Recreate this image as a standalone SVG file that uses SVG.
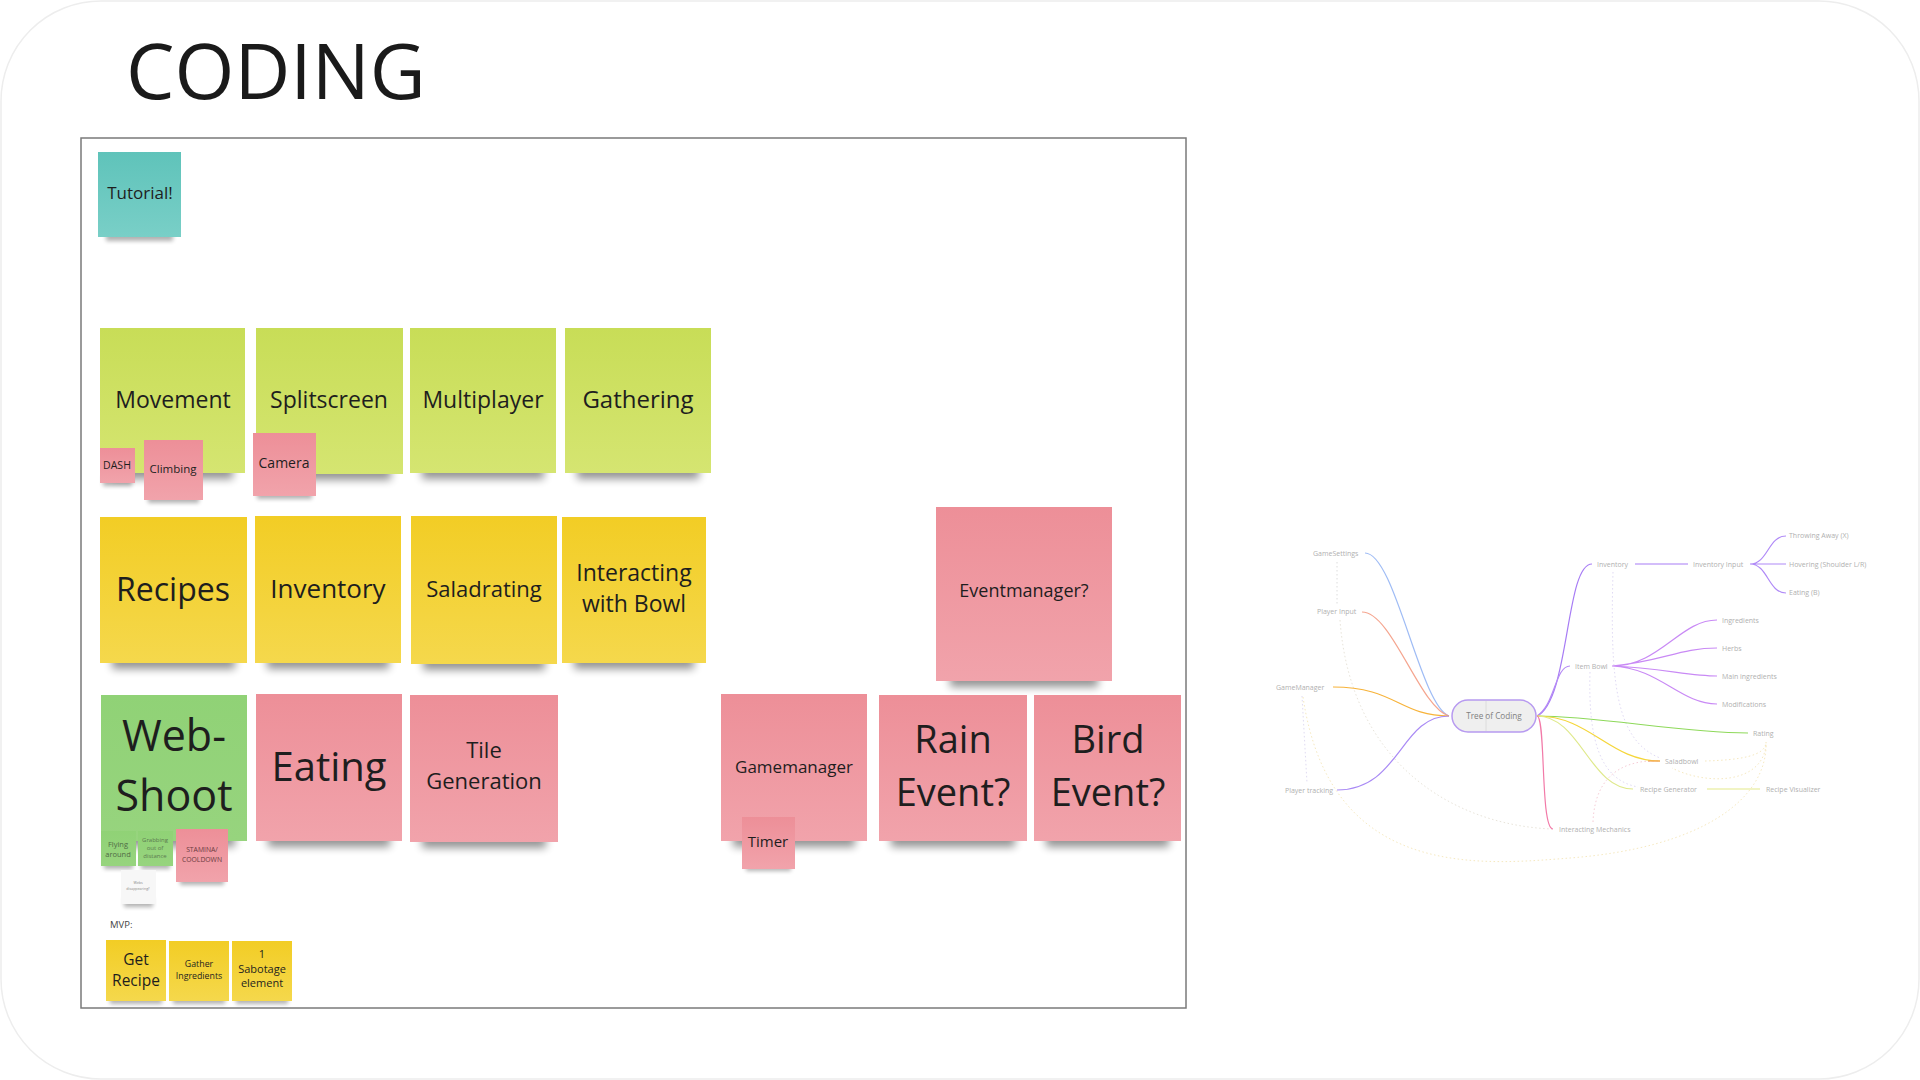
<svg xmlns="http://www.w3.org/2000/svg" width="1920" height="1080" viewBox="0 0 1920 1080">
<defs>
<linearGradient id="gLime" x1="0" y1="0" x2="0" y2="1"><stop offset="0" stop-color="#c8dd57"/><stop offset="1" stop-color="#d5e571"/></linearGradient>
<linearGradient id="gYel" x1="0" y1="0" x2="0" y2="1"><stop offset="0" stop-color="#f2cd25"/><stop offset="1" stop-color="#f5d84c"/></linearGradient>
<linearGradient id="gPink" x1="0" y1="0" x2="0" y2="1"><stop offset="0" stop-color="#ed8f98"/><stop offset="1" stop-color="#f1a3ab"/></linearGradient>
<linearGradient id="gGreen" x1="0" y1="0" x2="0" y2="1"><stop offset="0" stop-color="#90d276"/><stop offset="1" stop-color="#97d47e"/></linearGradient>
<linearGradient id="gTeal" x1="0" y1="0" x2="0" y2="1"><stop offset="0" stop-color="#5fc3ba"/><stop offset="1" stop-color="#79cfc7"/></linearGradient>
<filter id="blur" x="-30%" y="-100%" width="160%" height="300%"><feGaussianBlur stdDeviation="4"/></filter>
<filter id="blurS" x="-30%" y="-100%" width="160%" height="300%"><feGaussianBlur stdDeviation="2"/></filter>
</defs>
<style>
.sh{fill:#000;opacity:.42;filter:url(#blur)}
.shs{fill:#000;opacity:.3;filter:url(#blurS)}
.lime{fill:url(#gLime)}
.yel{fill:url(#gYel)}
.pink{fill:url(#gPink)}
.green{fill:url(#gGreen)}
.teal{fill:url(#gTeal)}
.white{fill:#f7f7f7}
text{font-family:"Open Sans","Noto Sans","Liberation Sans",sans-serif;fill:#1e1e1e}
.c{text-anchor:middle}
.mm{font-size:7px;fill:#b0b0b0}
.br{fill:none;stroke-width:1.2}
.dot{fill:none;stroke-width:1;stroke-dasharray:1.5 2.5}
</style>
<rect x="1" y="1" width="1918" height="1078" rx="100" fill="#ffffff" stroke="#ededed" stroke-width="1.5"/>
<text x="126" y="99" style="font-size:77px;fill:#1a1a1a">CODING</text>
<rect x="81" y="138" width="1105" height="870" fill="#ffffff" stroke="#7a7a7a" stroke-width="1.5"/>

<g id="tutorial"><rect class="shs" x="106" y="229" width="67" height="12"/><rect class="teal" x="98" y="152" width="83" height="85"/><text class="c" x="140" y="199" font-size="17">Tutorial!</text></g>

<g id="movement"><rect class="sh" x="112" y="463" width="121" height="16"/><rect class="lime" x="100" y="328" width="145" height="145"/><text class="c" x="173" y="408" font-size="23">Movement</text></g>
<g id="splitscreen"><rect class="sh" x="268" y="464" width="123" height="16"/><rect class="lime" x="256" y="328" width="147" height="146"/><text class="c" x="329" y="408" font-size="23">Splitscreen</text></g>
<g id="multiplayer"><rect class="sh" x="422" y="463" width="122" height="16"/><rect class="lime" x="410" y="328" width="146" height="145"/><text class="c" x="483" y="408" font-size="23">Multiplayer</text></g>
<g id="gathering"><rect class="sh" x="577" y="463" width="122" height="16"/><rect class="lime" x="565" y="328" width="146" height="145"/><text class="c" x="638" y="408" font-size="24">Gathering</text></g>
<g id="dash"><rect class="shs" x="103" y="476" width="29" height="10"/><rect class="pink" x="100" y="448" width="35" height="35"/><text class="c" x="117" y="469" font-size="10.5">DASH</text></g>
<g id="climbing"><rect class="shs" x="148" y="492" width="51" height="11"/><rect class="pink" x="144" y="440" width="59" height="60"/><text class="c" x="173" y="473" font-size="11.5">Climbing</text></g>
<g id="camera"><rect class="shs" x="257" y="488" width="55" height="11"/><rect class="pink" x="253" y="433" width="63" height="63"/><text class="c" x="284" y="468" font-size="14">Camera</text></g>

<g id="recipes"><rect class="sh" x="112" y="653" width="123" height="16"/><rect class="yel" x="100" y="517" width="147" height="146"/><text class="c" x="173" y="601" font-size="32">Recipes</text></g>
<g id="inventory"><rect class="sh" x="267" y="653" width="122" height="16"/><rect class="yel" x="255" y="516" width="146" height="147"/><text class="c" x="328" y="598" font-size="26">Inventory</text></g>
<g id="saladrating"><rect class="sh" x="423" y="654" width="122" height="16"/><rect class="yel" x="411" y="516" width="146" height="148"/><text class="c" x="484" y="597" font-size="22">Saladrating</text></g>
<g id="interacting"><rect class="sh" x="574" y="653" width="120" height="16"/><rect class="yel" x="562" y="517" width="144" height="146"/><text class="c" x="634" y="581" font-size="23">Interacting</text><text class="c" x="634" y="612" font-size="23">with Bowl</text></g>

<g id="webshoot"><rect class="sh" x="113" y="831" width="122" height="16"/><rect class="green" x="101" y="695" width="146" height="146"/><text class="c" x="174" y="751" font-size="43">Web-</text><text class="c" x="174" y="811" font-size="43">Shoot</text></g>
<g id="eating"><rect class="sh" x="268" y="831" width="122" height="16"/><rect class="pink" x="256" y="694" width="146" height="147"/><text class="c" x="329" y="781" font-size="40">Eating</text></g>
<g id="tilegeneration"><rect class="sh" x="422" y="832" width="124" height="16"/><rect class="pink" x="410" y="695" width="148" height="147"/><text class="c" x="484" y="758" font-size="22">Tile</text><text class="c" x="484" y="789" font-size="22">Generation</text></g>
<g id="flying"><rect class="shs" x="104" y="860" width="29" height="9"/><rect class="green" x="101" y="831" width="35" height="35"/><text class="c" x="118" y="847" font-size="7.5" style="fill:#4f6b45">Flying</text><text class="c" x="118" y="857" font-size="7.5" style="fill:#4f6b45">around</text></g>
<g id="grabbing"><rect class="shs" x="141" y="860" width="29" height="9"/><rect class="green" x="138" y="831" width="35" height="35"/><text class="c" x="155" y="842" font-size="6" style="fill:#5c7a50">Grabbing</text><text class="c" x="155" y="850" font-size="6" style="fill:#5c7a50">out of</text><text class="c" x="155" y="858" font-size="6" style="fill:#5c7a50">distance</text></g>
<g id="stamina"><rect class="shs" x="180" y="875" width="44" height="10"/><rect class="pink" x="176" y="829" width="52" height="53"/><text class="c" x="202" y="852" font-size="6.8" style="fill:#6a3a40">STAMINA/</text><text class="c" x="202" y="862" font-size="6.8" style="fill:#6a3a40">COOLDOWN</text></g>
<g id="webs"><rect class="shs" x="124" y="898" width="29" height="9"/><rect class="white" x="121" y="870" width="35" height="34"/><text class="c" x="138" y="884" font-size="3.6" style="fill:#888">Webs</text><text class="c" x="138" y="890" font-size="3.6" style="fill:#888">disappearing?</text></g>

<text x="110" y="928" font-size="9.5" style="fill:#444">MVP:</text>
<g id="getrecipe"><rect class="shs" x="110" y="994" width="52" height="10"/><rect class="yel" x="106" y="940" width="60" height="61"/><text class="c" x="136" y="965" font-size="15.5">Get</text><text class="c" x="136" y="986" font-size="15.5">Recipe</text></g>
<g id="gather"><rect class="shs" x="173" y="994" width="52" height="10"/><rect class="yel" x="169" y="941" width="60" height="60"/><text class="c" x="199" y="967" font-size="8.8">Gather</text><text class="c" x="199" y="979" font-size="8.8">Ingredients</text></g>
<g id="sabotage"><rect class="shs" x="236" y="994" width="52" height="10"/><rect class="yel" x="232" y="941" width="60" height="60"/><text class="c" x="262" y="958" font-size="11">1</text><text class="c" x="262" y="973" font-size="11">Sabotage</text><text class="c" x="262" y="987" font-size="11">element</text></g>

<g id="eventmanager"><rect class="sh" x="950" y="671" width="148" height="16"/><rect class="pink" x="936" y="507" width="176" height="174"/><text class="c" x="1024" y="597" font-size="18">Eventmanager?</text></g>
<g id="gamemanager"><rect class="sh" x="733" y="831" width="122" height="16"/><rect class="pink" x="721" y="694" width="146" height="147"/><text class="c" x="794" y="773" font-size="17">Gamemanager</text></g>
<g id="timer"><rect class="shs" x="746" y="861" width="45" height="10"/><rect class="pink" x="742" y="817" width="53" height="52"/><text class="c" x="768" y="847" font-size="15">Timer</text></g>
<g id="rain"><rect class="sh" x="891" y="831" width="124" height="16"/><rect class="pink" x="879" y="695" width="148" height="146"/><text class="c" x="953" y="753" font-size="38">Rain</text><text class="c" x="953" y="806" font-size="38">Event?</text></g>
<g id="bird"><rect class="sh" x="1046" y="831" width="123" height="16"/><rect class="pink" x="1034" y="695" width="147" height="146"/><text class="c" x="1108" y="753" font-size="38">Bird</text><text class="c" x="1108" y="806" font-size="38">Event?</text></g>

<g id="connectors">
<path class="dot" stroke="#dcdcdc" d="M1337,562 L1337,606"/>
<path class="dot" stroke="#e0dbf2" d="M1302,696 L1307,783"/>
<path class="dot" stroke="#f6e9c0" d="M1303,697 C1330,880 1480,865 1570,858 C1700,848 1768,800 1766,742"/>
<path class="dot" stroke="#e8e4da" d="M1340,620 C1350,760 1450,825 1552,829"/>
<path class="dot" stroke="#f6ccd6" d="M1593,822 C1595,770 1630,760 1658,761"/>
<path class="dot" stroke="#f6e9c0" d="M1705,761 C1740,760 1766,756 1766,742"/>
<path class="dot" stroke="#f6e9c0" d="M1766,745 C1762,785 1705,785 1672,768"/>
<path class="dot" stroke="#e0daf4" d="M1613,572 C1610,680 1615,740 1660,758"/>
<path class="dot" stroke="#e0daf4" d="M1590,672 C1588,740 1600,780 1638,787"/>
<path class="br" stroke="#9fbcf5" d="M1365,553 C1395,553 1420,705 1449,716"/>
<path class="br" stroke="#f5a58f" d="M1362,612 C1392,612 1420,708 1449,716"/>
<path class="br" stroke="#f7b33a" d="M1333,687 C1395,687 1400,716 1449,716"/>
<path class="br" stroke="#a98af5" d="M1337,790 C1400,790 1400,716 1449,716"/>
<path class="br" stroke="#a77cf5" d="M1537,716 C1570,700 1565,564 1592,564"/>
<path class="br" stroke="#a77cf5" stroke-width="1.6" d="M1635,564 L1688,564"/>
<path class="br" stroke="#b08af7" d="M1750,564 C1768,564 1768,536 1786,536 M1750,564 L1786,564 M1750,564 C1768,564 1768,593 1786,593"/>
<path class="br" stroke="#b68cf5" d="M1537,716 C1555,705 1555,666 1570,666"/>
<path class="br" stroke="#c98af5" d="M1612,666 C1660,666 1680,620 1717,620 M1612,666 C1660,662 1680,648 1717,648 M1612,666 C1660,668 1690,676 1717,676 M1612,666 C1660,668 1680,704 1717,704"/>
<path class="br" stroke="#8ed95a" d="M1537,716 C1600,716 1680,733 1748,733"/>
<path class="br" stroke="#f5d63a" d="M1537,716 C1590,716 1610,761 1660,761"/>
<path class="br" stroke="#f4a25a" d="M1648,761 L1660,761"/>
<path class="br" stroke="#dfe98a" d="M1537,716 C1580,716 1590,789 1633,789"/>
<path class="br" stroke="#e3ea8a" d="M1707,789 L1760,789"/>
<path class="br" stroke="#f27aa8" d="M1537,716 C1546,716 1540,829 1553,829"/>
</g>

<g id="tree-of-coding"><rect x="1452" y="700" width="84" height="32" rx="16" fill="#efefef" stroke="#b79af0" stroke-width="1.5"/><line x1="1486" y1="701" x2="1486" y2="731" stroke="#dcdcdc"/><text class="c" x="1494" y="719" font-size="8.2" style="fill:#808080">Tree of Coding</text></g>
<g id="mm-labels">
<text class="mm" x="1313" y="555.5">GameSettings</text>
<text class="mm" x="1317" y="614">Player Input</text>
<text class="mm" x="1276" y="689.5">GameManager</text>
<text class="mm" x="1285" y="792.5">Player tracking</text>
<text class="mm" x="1597" y="566.5">Inventory</text>
<text class="mm" x="1693" y="566.5">Inventory Input</text>
<text class="mm" x="1789" y="537.5">Throwing Away (X)</text>
<text class="mm" x="1789" y="566.5">Hovering (Shoulder L/R)</text>
<text class="mm" x="1789" y="595">Eating (B)</text>
<text class="mm" x="1575" y="668.5">Item Bowl</text>
<text class="mm" x="1722" y="622.5">Ingredients</text>
<text class="mm" x="1722" y="650.5">Herbs</text>
<text class="mm" x="1722" y="678.5">Main ingredients</text>
<text class="mm" x="1722" y="706.5">Modifications</text>
<text class="mm" x="1753" y="735.5">Rating</text>
<text class="mm" x="1665" y="763.5">Saladbowl</text>
<text class="mm" x="1640" y="791.5">Recipe Generator</text>
<text class="mm" x="1766" y="791.5">Recipe Visualizer</text>
<text class="mm" x="1559" y="831.5">Interacting Mechanics</text>
</g>
</svg>
